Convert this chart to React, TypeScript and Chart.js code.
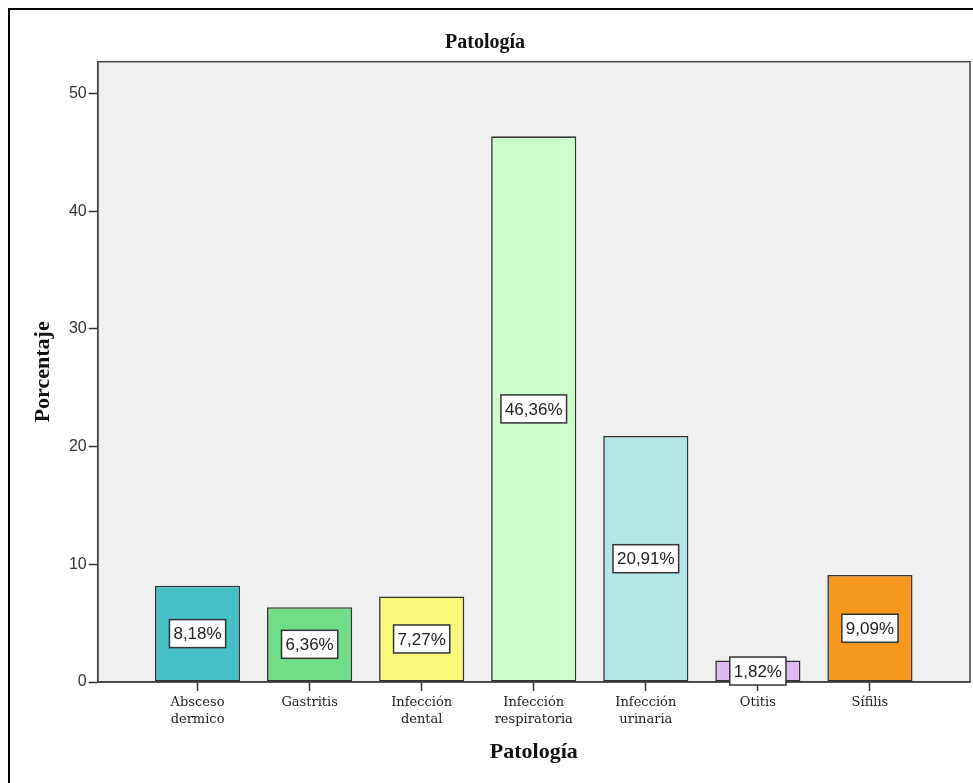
import React, { useEffect, useRef } from "react";
import { Chart, registerables } from "chart.js";

Chart.register(...registerables);

const categories: (string | string[])[] = [
  ["Absceso", "dermico"],
  "Gastritis",
  ["Infección", "dental"],
  ["Infección", "respiratoria"],
  ["Infección", "urinaria"],
  "Otitis",
  "Sífilis",
];
const values = [8.18, 6.36, 7.27, 46.36, 20.91, 1.82, 9.09];
const barColors = ["#45c0c4", "#70de88", "#f9f87a", "#ccffcc", "#b3e6e6", "#dfbaf0", "#f7981f"];
const chartTitle = "Patología";
const xTitle = "Patología";
const yTitle = "Porcentaje";

const fmt = (v: number) => v.toFixed(2).replace(".", ",") + "%";

const plotArea = {
  id: "plotArea",
  beforeDraw(chart: any) {
    const { ctx, chartArea } = chart;
    const { left, top, right, bottom } = chartArea;
    ctx.save();
    ctx.fillStyle = "#f0f0f0";
    ctx.fillRect(left, top, right - left, bottom - top);
    ctx.restore();
  },
  beforeDatasetsDraw(chart: any) {
    const { ctx, chartArea } = chart;
    const { left, top, right, bottom } = chartArea;
    ctx.save();
    ctx.strokeStyle = "#444";
    ctx.lineWidth = 1.5;
    ctx.strokeRect(left, top, right - left, bottom - top);
    ctx.restore();
  },
};

const barLabels = {
  id: "barLabels",
  afterDatasetsDraw(chart: any) {
    const { ctx } = chart;
    const meta = chart.getDatasetMeta(0);
    ctx.save();
    ctx.font = '17px "Liberation Sans", Arial, sans-serif';
    ctx.textAlign = "center";
    ctx.textBaseline = "middle";
    meta.data.forEach((bar: any, i: number) => {
      const { x, y, base } = bar.getProps(["x", "y", "base"], true);
      const cy = (y + base) / 2;
      const text = fmt(values[i]);
      const w = ctx.measureText(text).width + 8;
      const h = 28;
      ctx.fillStyle = "#ffffff";
      ctx.fillRect(x - w / 2, cy - h / 2, w, h);
      ctx.strokeStyle = "#333";
      ctx.lineWidth = 1.5;
      ctx.strokeRect(x - w / 2, cy - h / 2, w, h);
      ctx.fillStyle = "#222";
      ctx.fillText(text, x, cy + 1);
    });
    ctx.restore();
  },
};

export default function App() {
  const ref = useRef<HTMLCanvasElement>(null);
  useEffect(() => {
    if (!ref.current) return;
    const chart = new Chart(ref.current, {
      type: "bar",
      data: {
        datasets: [
          {
            data: values.map((v, i) => ({ x: i, y: v })),
            backgroundColor: barColors,
            borderColor: "#333",
            borderWidth: 1.6,
            borderSkipped: false,
            barPercentage: 0.76,
            categoryPercentage: 1,
          },
        ],
      },
      options: {
        responsive: false,
        animation: false,
        layout: { padding: { left: 0, right: 3, top: 0, bottom: 0 } },
        plugins: {
          legend: { display: false },
          tooltip: { enabled: false },
          title: {
            display: true,
            text: chartTitle,
            color: "#111",
            font: { family: '"Liberation Serif", serif', size: 20, weight: "bold", lineHeight: 1.2 },
            padding: { top: 31, bottom: 6.7 },
          },
        },
        scales: {
          x: {
            type: "linear",
            offset: false,
            min: -0.891,
            max: 6.893,
            afterFit(scale: any) {
              scale.height = 101;
            },
            ticks: {
              stepSize: 1,
              includeBounds: false,
              autoSkip: false,
              maxRotation: 0,
              padding: 3,
              color: "#222",
              font: { family: '"DejaVu Serif", serif', size: 13, lineHeight: 1.3 },
              callback: (v: any) => categories[v as number] as any,
            },
            grid: {
              offset: false,
              drawOnChartArea: false,
              drawTicks: true,
              tickLength: 9,
              color: "#333",
              tickWidth: 1.5,
            },
            border: { display: true, color: "#333", width: 1.5 },
            title: {
              display: true,
              text: xTitle,
              color: "#111",
              font: { family: '"Liberation Serif", serif', size: 22, weight: "bold", lineHeight: 1.2 },
              padding: { top: 0, bottom: 17.8 },
            },
          },
          y: {
            type: "linear",
            min: 0,
            max: 52.7,
            afterFit(scale: any) {
              scale.width = 97.7;
            },
            ticks: {
              stepSize: 10,
              includeBounds: false,
              padding: 2,
              color: "#333",
              font: { family: '"Liberation Sans", Arial, sans-serif', size: 16 },
            },
            grid: { drawOnChartArea: false, drawTicks: true, tickLength: 9, color: "#333", tickWidth: 1.5 },
            border: { display: true, color: "#333", width: 1.5 },
            title: {
              display: true,
              text: yTitle,
              color: "#111",
              font: { family: '"Liberation Serif", serif', size: 22, weight: "bold", lineHeight: 1.2 },
              padding: { top: 29.8, bottom: 0 },
            },
          },
        },
      },
      plugins: [plotArea, barLabels],
    } as any);
    return () => chart.destroy();
  }, []);

  return (
    <div
      style={{
        position: "absolute",
        left: 0,
        top: 0,
        width: 973,
        height: 783,
        overflow: "hidden",
        background: "#fff",
      }}
    >
      <div
        style={{
          position: "absolute",
          left: 8,
          top: 8,
          width: 990,
          height: 800,
          borderTop: "2px solid #000",
          borderLeft: "2px solid #000",
          boxSizing: "border-box",
        }}
      />
      <canvas
        ref={ref}
        width={973}
        height={783}
        style={{ position: "absolute", left: 0, top: 0, width: 973, height: 783 }}
      />
    </div>
  );
}
